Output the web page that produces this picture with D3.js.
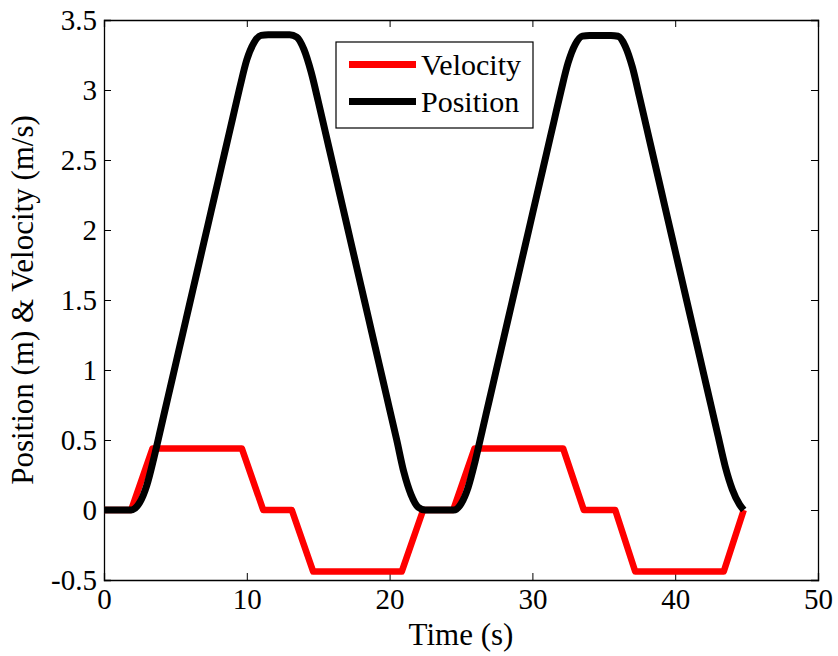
<!DOCTYPE html>
<html><head><meta charset="utf-8">
<script src="https://cdn.jsdelivr.net/npm/d3@7"></script>
<style>body{margin:0;background:#fff}svg{display:block}text{font-family:"Liberation Serif","Times New Roman",serif;fill:#000}</style>
</head><body><svg id="c" width="838" height="656"></svg>
<script>
const xTicks=[0,10,20,30,40,50];
const yTicks=[-0.5,0,0.5,1,1.5,2,2.5,3,3.5];
const yTickLabels=["-0.5","0","0.5","1","1.5","2","2.5","3","3.5"];
const seriesNames=["Velocity","Position"];
const seriesColors=["#ff0000","#000000"];
// velocity breakpoints (time, value)
const velT=[0,1.9,3.4,9.65,11.15,13.15,14.65,20.85,22.35,24.45,25.95,32.15,33.6,35.8,37.2,43.4,44.8];
const velV=[0,0,0.44,0.44,0,0,-0.44,-0.44,0,0,0.44,0.44,0,0,-0.44,-0.44,0];
// position samples (time, value)
const posT=[0,0.5,1,1.5,1.9,2,2.5,3,3.5,4,4.5,5,5.5,6,6.5,7,7.5,8,8.5,9,9.5,10,10.5,11,11.5,12,12.5,13,13.5,14,14.5,15,15.5,16,16.5,17,17.5,18,18.5,19,19.5,20,20.5,21,21.5,22,22.5,23,23.5,24,24.5,25,25.5,26,26.5,27,27.5,28,28.5,29,29.5,30,30.5,31,31.5,32,32.5,33,33.5,34,34.5,35,35.5,36,36.5,37,37.5,38,38.5,39,39.5,40,40.5,41,41.5,42,42.5,43,43.5,44,44.5,44.8];
const posV=[0,0,0,0,0,0.002,0.053,0.177,0.374,0.594,0.814,1.034,1.254,1.474,1.694,1.914,2.134,2.354,2.574,2.794,3.014,3.216,3.338,3.390,3.395,3.395,3.395,3.395,3.378,3.290,3.130,2.920,2.700,2.480,2.260,2.040,1.820,1.600,1.380,1.160,0.940,0.720,0.500,0.27,0.11,0.02,0,0,0,0,0,0.044,0.162,0.352,0.572,0.792,1.012,1.232,1.452,1.672,1.892,2.112,2.332,2.552,2.772,2.992,3.194,3.326,3.385,3.39,3.39,3.39,3.39,3.384,3.313,3.164,2.950,2.730,2.510,2.290,2.070,1.850,1.630,1.410,1.190,0.970,0.750,0.530,0.312,0.147,0.04,0];

const svg=d3.select("#c");
const L=104,R=818,T=20,B=580;
const x=d3.scaleLinear().domain([0,50]).range([L,R]);
const y=d3.scaleLinear().domain([-0.5,3.5]).range([B,T]);
const tl=7;

// axes
const gx=svg.append("g").attr("transform",`translate(0,${B})`)
  .call(d3.axisBottom(x).tickValues(xTicks).tickSize(-tl).tickPadding(8).tickFormat(d3.format("d")));
const gxt=svg.append("g").attr("transform",`translate(0,${T})`)
  .call(d3.axisTop(x).tickValues(xTicks).tickSize(-tl).tickFormat(""));
const gy=svg.append("g").attr("transform",`translate(${L},0)`)
  .call(d3.axisLeft(y).tickValues(yTicks).tickSize(-tl).tickPadding(7).tickFormat((d,i)=>yTickLabels[i]));
const gyr=svg.append("g").attr("transform",`translate(${R},0)`)
  .call(d3.axisRight(y).tickValues(yTicks).tickSize(-tl).tickFormat(""));
[gx,gxt,gy,gyr].forEach(g=>{
  g.select(".domain").attr("stroke","#000").attr("stroke-width",1.3);
  g.selectAll(".tick line").attr("stroke","#000").attr("stroke-width",1);
  g.selectAll("text").style("font-size","29px").style("font-family","'Liberation Serif',serif").attr("fill","#000");
});

// lines
const line=d3.line().x(d=>x(d[0])).y(d=>y(d[1]));
const velData=velT.map((t,i)=>[t,velV[i]]);
const posData=posT.map((t,i)=>[t,posV[i]]);
svg.append("path").datum(velData).attr("d",line).attr("fill","none")
  .attr("stroke",seriesColors[0]).attr("stroke-width",6.5).attr("stroke-linejoin","round");
svg.append("path").datum(posData).attr("d",line.curve(d3.curveMonotoneX)).attr("fill","none")
  .attr("stroke",seriesColors[1]).attr("stroke-width",7).attr("stroke-linejoin","round");

// labels
svg.append("text").attr("x",(L+R)/2).attr("y",645).attr("text-anchor","middle")
  .style("font-size","31px").text("Time (s)");
svg.append("text").attr("transform",`translate(33,${(T+B)/2}) rotate(-90)`).attr("text-anchor","middle")
  .style("font-size","31px").text("Position (m) & Velocity (m/s)");

// legend
const lg=svg.append("g");
lg.append("rect").attr("x",336).attr("y",42).attr("width",197).attr("height",86)
  .attr("fill","#fff").attr("stroke","#000").attr("stroke-width",1.2);
seriesNames.forEach((n,i)=>{
  const yy=[64.5,101.5][i];
  lg.append("line").attr("x1",349).attr("x2",416).attr("y1",yy).attr("y2",yy)
    .attr("stroke",seriesColors[i]).attr("stroke-width",7);
  lg.append("text").attr("x",421).attr("y",yy+10).style("font-size","30px").text(n);
});
</script></body></html>
